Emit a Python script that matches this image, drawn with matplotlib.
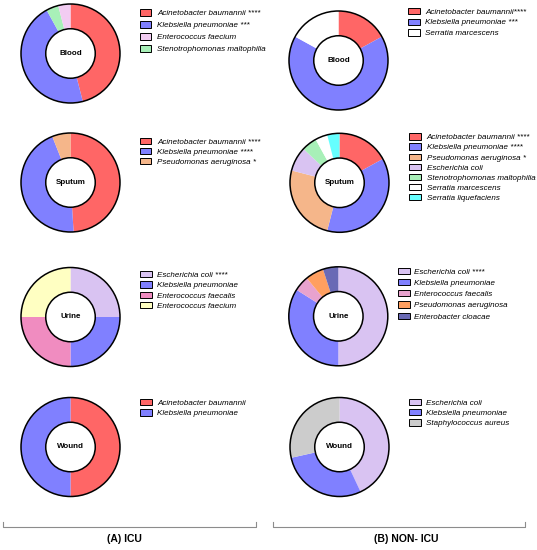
import matplotlib
matplotlib.use("Agg")
import matplotlib.pyplot as plt
from matplotlib.patches import Circle, Patch

plt.rcParams['font.family'] = ['Liberation Sans', 'DejaVu Sans']

# ---------------- data ----------------
C_AB = '#FF6666'   # Acinetobacter baumannii
C_KP = '#8080FF'   # Klebsiella pneumoniae
C_EFM = '#F2CCF2'  # Enterococcus faecium (blood)
C_SM = '#A8F0B8'   # Stenotrophomonas maltophilia
C_PA = '#F5B68A'   # Pseudomonas aeruginosa
C_PA2 = '#FF9F60'  # Pseudomonas aeruginosa (urine)
C_EC = '#D9C3F2'   # Escherichia coli
C_EFS = '#F08CC0'  # Enterococcus faecalis
C_EFS2 = '#E8A2CE' # Enterococcus faecalis (non-ICU urine)
C_EFMY = '#FFFFC2' # Enterococcus faecium (urine)
C_SMAR = '#FFFFFF' # Serratia marcescens
C_SLIQ = '#66FFFF' # Serratia liquefaciens
C_ECL = '#6A6AB5'  # Enterobacter cloacae
C_SA = '#CCCCCC'   # Staphylococcus aureus

# ICU Blood (wedges clockwise from 12 o'clock)
icu_blood_vals = [46, 46, 4, 4]
icu_blood_cols = [C_AB, C_KP, C_SM, C_EFM]
icu_blood_leg = ['Acinetobacter baumannii ****', 'Klebsiella pneumoniae ***',
                 'Enterococcus faecium', 'Stenotrophomonas maltophilia']
icu_blood_legcols = [C_AB, C_KP, C_EFM, C_SM]

icu_sput_vals = [49, 45, 6]
icu_sput_cols = [C_AB, C_KP, C_PA]
icu_sput_leg = ['Acinetobacter baumannii ****', 'Klebsiella pneumoniae ****',
                'Pseudomonas aeruginosa *']

icu_urine_vals = [25, 25, 25, 25]
icu_urine_cols = [C_EC, C_KP, C_EFS, C_EFMY]
icu_urine_leg = ['Escherichia coli ****', 'Klebsiella pneumoniae',
                 'Enterococcus faecalis', 'Enterococcus faecium']

icu_wound_vals = [50, 50]
icu_wound_cols = [C_AB, C_KP]
icu_wound_leg = ['Acinetobacter baumannii', 'Klebsiella pneumoniae']

non_blood_vals = [17, 66, 17]
non_blood_cols = [C_AB, C_KP, C_SMAR]
non_blood_leg = ['Acinetobacter baumannii****', 'Klebsiella pneumoniae ***',
                 'Serratia marcescens']

non_sput_vals = [17, 37, 25, 8, 5, 4, 4]
non_sput_cols = [C_AB, C_KP, C_PA, C_EC, C_SM, C_SMAR, C_SLIQ]
non_sput_leg = ['Acinetobacter baumannii ****', 'Klebsiella pneumoniae ****',
                'Pseudomonas aeruginosa *', 'Escherichia coli',
                'Stenotrophomonas maltophilia', 'Serratia marcescens',
                'Serratia liquefaciens']

non_urine_vals = [50, 34, 5, 6, 5]
non_urine_cols = [C_EC, C_KP, C_EFS2, C_PA2, C_ECL]
non_urine_leg = ['Escherichia coli ****', 'Klebsiella pneumoniae',
                 'Enterococcus faecalis', 'Pseudomonas aeruginosa',
                 'Enterobacter cloacae']

non_wound_vals = [43, 28.5, 28.5]
non_wound_cols = [C_EC, C_KP, C_SA]
non_wound_leg = ['Escherichia coli', 'Klebsiella pneumoniae',
                 'Staphylococcus aureus']

group_labels = ['(A) ICU', '(B) NON- ICU']

# ---------------- layout ----------------
W, H = 537, 550
fig = plt.figure(figsize=(W / 100, H / 100), dpi=100)
FS = 5.8
FSPX = FS * 100 / 72.0
ROWH = 7.9


def add_pie(cx, cy, r, vals, cols, name):
    ax = fig.add_axes([(cx - r) / W, 1 - (cy + r) / H, 2 * r / W, 2 * r / H])
    ax.pie(vals, colors=cols, startangle=90, counterclock=False, radius=1,
           wedgeprops=dict(width=0.5, linewidth=0))
    ax.add_patch(Circle((0, 0), 1, fill=False, ec='black', lw=1.1, clip_on=False))
    ax.add_patch(Circle((0, 0), 0.5, fill=False, ec='black', lw=1.1, clip_on=False))
    ax.set_xlim(-1, 1)
    ax.set_ylim(-1, 1)
    ax.axis('off')
    ax.text(0, 0, name, ha='center', va='center', fontsize=FS,
            fontweight='bold')
    return ax


def add_legend(ax, labels, cols, x, y0, pitch, textx):
    handles = [Patch(facecolor=c, edgecolor='black', linewidth=0.7) for c in cols]
    hl = 11.7 / FSPX
    htp = (textx - x - 11.7) / FSPX
    ls = max(pitch - ROWH, 0) / FSPX
    ax.legend(handles, labels, loc='upper left',
              bbox_to_anchor=(x / W, 1 - (y0 - ROWH / 2) / H),
              bbox_transform=fig.transFigure, frameon=False,
              borderpad=0, borderaxespad=0, handlelength=hl,
              handleheight=6.5 / FSPX, handletextpad=htp, labelspacing=ls,
              prop=dict(size=FS, style='italic'))


R = 49.5
a = add_pie(70.5, 53.5, R, icu_blood_vals, icu_blood_cols, 'Blood')
add_legend(a, icu_blood_leg, icu_blood_legcols, 139.5, 13.3, 12.0, 157)
a = add_pie(70.5, 182.5, R, icu_sput_vals, icu_sput_cols, 'Sputum')
add_legend(a, icu_sput_leg, icu_sput_cols, 139.5, 141.8, 10.0, 157)
a = add_pie(70.5, 317, R, icu_urine_vals, icu_urine_cols, 'Urine')
add_legend(a, icu_urine_leg, icu_urine_cols, 140, 275, 10.3, 157)
a = add_pie(70.5, 447, R, icu_wound_vals, icu_wound_cols, 'Wound')
add_legend(a, icu_wound_leg, icu_wound_cols, 140, 402.8, 10.6, 157)

a = add_pie(338.5, 60.5, R, non_blood_vals, non_blood_cols, 'Blood')
add_legend(a, non_blood_leg, non_blood_cols, 408.3, 11.7, 10.8, 425)
a = add_pie(339.5, 182.8, R, non_sput_vals, non_sput_cols, 'Sputum')
add_legend(a, non_sput_leg, non_sput_cols, 409.3, 137.3, 10.15, 426.7)
a = add_pie(338.3, 316.3, R, non_urine_vals, non_urine_cols, 'Urine')
add_legend(a, non_urine_leg, non_urine_cols, 397.8, 271.7, 11.25, 414)
a = add_pie(339.5, 447, R, non_wound_vals, non_wound_cols, 'Wound')
add_legend(a, non_wound_leg, non_wound_cols, 409.3, 402.7, 10.3, 426)

# brackets and group labels
br = fig.add_axes([0, 0, 1, 1])
br.set_xlim(0, W)
br.set_ylim(H, 0)
br.axis('off')
for (x0, x1), lab, lx in zip([(3.3, 256), (272.7, 525)], group_labels, [124, 406]):
    br.plot([x0, x0, x1, x1], [521.7, 527.2, 527.2, 521.7], color='#8C8C8C', lw=0.8)
    br.text(lx, 538.5, lab, ha='center', va='center', fontsize=7.5,
            fontweight='bold')

fig.savefig('out.png', dpi=100)
